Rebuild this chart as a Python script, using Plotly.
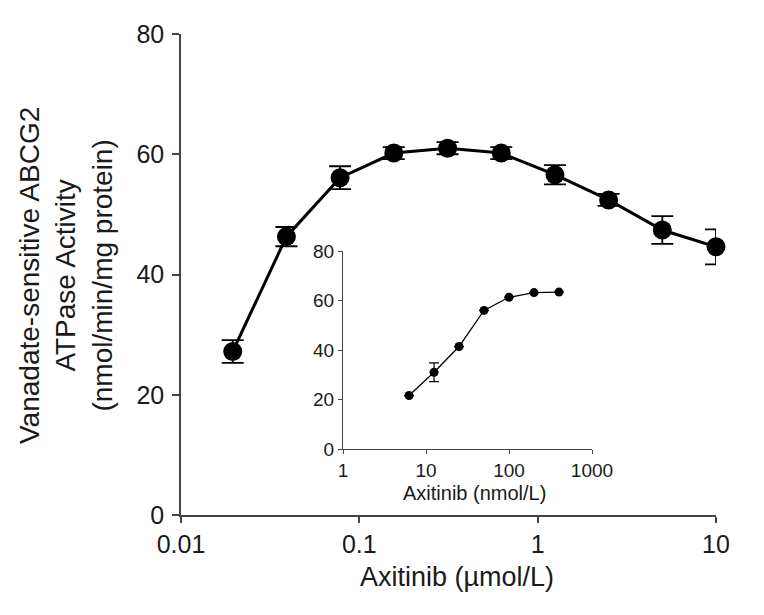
import plotly.graph_objects as go

# Main plot data (Axitinib, µmol/L)
main_conc = [0.0195, 0.039, 0.078, 0.156, 0.3125, 0.625, 1.25, 2.5, 5.0, 10.0]
main_activity = [27.2, 46.3, 56.1, 60.2, 61.0, 60.2, 56.6, 52.4, 47.4, 44.6]
main_err = [1.9, 1.6, 1.9, 1.0, 1.0, 1.0, 1.6, 1.0, 2.3, 2.9]

# Inset data (Axitinib, nmol/L)
inset_conc = [6.25, 12.5, 25, 50, 100, 200, 400]
inset_activity = [21.6, 31.0, 41.4, 56.0, 61.3, 63.2, 63.4]
inset_err = [0, 3.8, 0, 0, 0, 0, 0]

main_xticks = [0.01, 0.1, 1, 10]
main_xticklabels = ["0.01", "0.1", "1", "10"]
main_yticks = [0, 20, 40, 60, 80]
inset_xticks = [1, 10, 100, 1000]
inset_xticklabels = ["1", "10", "100", "1000"]
inset_yticks = [0, 20, 40, 60, 80]

FONT = "Liberation Sans, Arial, sans-serif"
TXT = "#1a1a1a"
AX = "#444444"

# the page body has an 8px margin; compensate so the picture lines up
OFF = 8

fig = go.Figure()

fig.add_trace(go.Scatter(
    x=main_conc, y=main_activity, mode="lines+markers",
    line=dict(color="black", width=3),
    marker=dict(color="black", size=19),
    error_y=dict(type="data", array=main_err, color="black", thickness=1.8, width=11),
    cliponaxis=False, showlegend=False, xaxis="x", yaxis="y",
))

fig.add_trace(go.Scatter(
    x=inset_conc, y=inset_activity, mode="lines+markers",
    line=dict(color="black", width=1.3),
    marker=dict(color="black", size=9),
    error_y=dict(type="data", array=inset_err, color="black", thickness=1.2, width=5),
    cliponaxis=False, showlegend=False, xaxis="x2", yaxis="y2",
))

W, H = 764, 615
L, R, T, B = 181, 716, 34, 515
pw, ph = R - L, B - T

def px2x(px):
    return (px - L) / pw

def px2y(py):
    return (B - py) / ph

fig.update_layout(
    width=W, height=H,
    margin=dict(l=L - OFF, r=W - R + OFF, t=T - OFF, b=H - B + OFF, pad=0),
    paper_bgcolor="white", plot_bgcolor="white",
    font=dict(family=FONT, color=TXT),
    xaxis=dict(
        type="log", range=[-2, 1], domain=[0, 1],
        tickvals=main_xticks, ticktext=main_xticklabels,
        ticks="outside", ticklen=6, tickwidth=1.5, tickcolor=AX,
        showline=True, linecolor=AX, linewidth=1.5,
        showgrid=False, zeroline=False,
        tickfont=dict(size=25, family=FONT, color=TXT),
    ),
    yaxis=dict(
        range=[0, 80], domain=[0, 1],
        tickvals=main_yticks,
        ticks="outside", ticklen=7, tickwidth=1.5, tickcolor=AX,
        showline=True, linecolor=AX, linewidth=1.5,
        showgrid=False, zeroline=False,
        tickfont=dict(size=25, family=FONT, color=TXT),
        ticklabelstandoff=3,
    ),
    xaxis2=dict(
        type="log", range=[0, 3], domain=[px2x(343), px2x(592)], anchor="y2",
        tickvals=inset_xticks, ticktext=inset_xticklabels,
        ticks="outside", ticklen=4, tickwidth=1, tickcolor=AX,
        showline=True, linecolor=AX, linewidth=1.2,
        showgrid=False, zeroline=False,
        tickfont=dict(size=19, family=FONT, color=TXT),
        ticklabelstandoff=0,
    ),
    yaxis2=dict(
        range=[0, 80], domain=[px2y(449), px2y(251)], anchor="x2",
        tickvals=inset_yticks,
        ticks="outside", ticklen=4, tickwidth=1, tickcolor=AX,
        showline=True, linecolor=AX, linewidth=1.2,
        showgrid=False, zeroline=False,
        tickfont=dict(size=19, family=FONT, color=TXT),
        ticklabelstandoff=0,
    ),
    annotations=[
        dict(text="Vanadate-sensitive ABCG2<br>ATPase Activity<br>(nmol/min/mg protein)",
             xref="paper", yref="paper", x=px2x(66), y=px2y(276),
             xanchor="center", yanchor="middle", textangle=-90, showarrow=False,
             font=dict(size=28, family=FONT, color=TXT)),
        dict(text="Axitinib (µmol/L)", xref="paper", yref="paper",
             x=px2x(457), y=px2y(577), xanchor="center", yanchor="middle",
             showarrow=False, font=dict(size=27, family=FONT, color=TXT)),
        dict(text="Axitinib (nmol/L)", xref="paper", yref="paper",
             x=px2x(474), y=px2y(493), xanchor="center", yanchor="middle",
             showarrow=False, font=dict(size=20, family=FONT, color=TXT)),
    ],
)

fig.write_html("out.html")
